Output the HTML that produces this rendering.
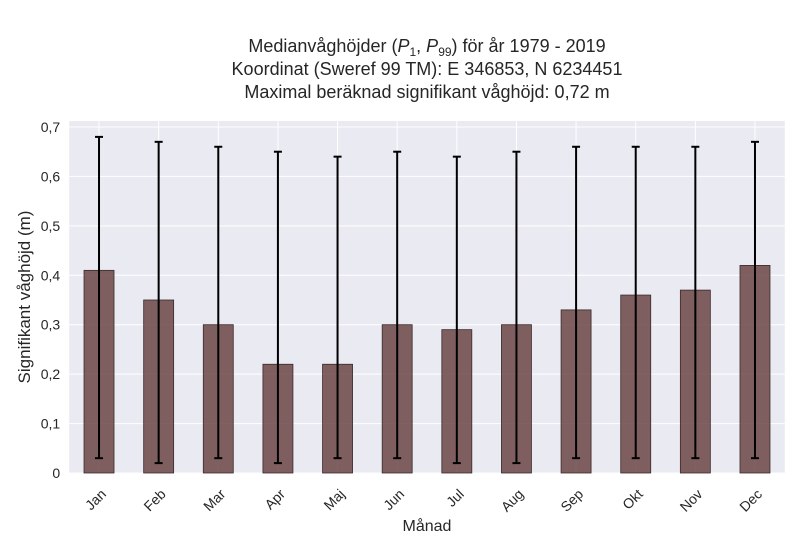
<!DOCTYPE html>
<html><head><meta charset="utf-8"><style>
body{margin:0;background:#fff;}
svg text{font-family:"Liberation Sans",sans-serif;fill:#262626;}
</style></head><body>
<svg width="800" height="550" xmlns="http://www.w3.org/2000/svg">
<g id="g"></g>
</svg>
<script>
const months=["Jan","Feb","Mar","Apr","Maj","Jun","Jul","Aug","Sep","Okt","Nov","Dec"];
const medians=[0.41,0.35,0.30,0.22,0.22,0.30,0.29,0.30,0.33,0.36,0.37,0.42];
const p1=[0.03,0.02,0.03,0.02,0.03,0.03,0.02,0.02,0.03,0.03,0.03,0.03];
const p99=[0.68,0.67,0.66,0.65,0.64,0.65,0.64,0.65,0.66,0.66,0.66,0.67];
const yTicks=[0,0.1,0.2,0.3,0.4,0.5,0.6,0.7];
const yTickLabels=["0","0,1","0,2","0,3","0,4","0,5","0,6","0,7"];
const L=69.2,R=784.8,T=121,B=473,yMax=0.7,yTop=127;
const step=(R-L)/months.length;
const xs=i=>L+step*(i+0.5);
const ys=v=>B-(v/yMax)*(B-yTop);
const g=document.getElementById('g');
const NS="http://www.w3.org/2000/svg";
function mk(t,a,p){const e=document.createElementNS(NS,t);for(const k in a)e.setAttribute(k,a[k]);(p||g).appendChild(e);return e;}
let e=mk('rect',{x:L,y:T,width:R-L,height:B-T,fill:'#eaeaf2'});


yTicks.forEach((v,i)=>{
 let l=mk('line',{x1:L,x2:R,y1:ys(v),y2:ys(v),stroke:'#fff','stroke-width':1});
 
 
 let t=mk('text',{x:L-9,y:ys(v)+5,'text-anchor':'end','font-size':14});
 t.textContent=yTickLabels[i];
 
 
});
months.forEach((m,i)=>{
 let l=mk('line',{x1:xs(i),x2:xs(i),y1:T,y2:B,stroke:'#fff','stroke-width':1});
 
 
});
months.forEach((m,i)=>{
 const x=xs(i),w=30;
 let b=mk('rect',{x:x-w/2,y:ys(medians[i]),width:w,height:B-ys(medians[i]),fill:'#6b4545','fill-opacity':0.85,stroke:'#3a2a2a','stroke-width':0.8});
 
 
 let eb=mk('g',{});
 
 
 mk('line',{x1:x,x2:x,y1:ys(p99[i]),y2:ys(p1[i]),stroke:'#000','stroke-width':2},eb);
 mk('line',{x1:x-4,x2:x+4,y1:ys(p99[i]),y2:ys(p99[i]),stroke:'#000','stroke-width':2},eb);
 mk('line',{x1:x-4,x2:x+4,y1:ys(p1[i]),y2:ys(p1[i]),stroke:'#000','stroke-width':2},eb);
 let t=mk('text',{x:x+8,y:B+22,'text-anchor':'end','font-size':14,transform:`rotate(-45 ${x+8} ${B+22})`});
 t.textContent=m;
 
 
});
</script>
<svg width="800" height="550" style="position:absolute;left:0;top:0" xmlns="http://www.w3.org/2000/svg">
<text x="427" y="52" text-anchor="middle" font-size="18" style="font-family:'Liberation Sans',sans-serif;fill:#262626">Medianvåghöjder (<tspan font-style="italic">P</tspan><tspan font-size="12" dy="4">1</tspan><tspan dy="-4">, </tspan><tspan font-style="italic">P</tspan><tspan font-size="12" dy="4">99</tspan><tspan dy="-4">) för år 1979 - 2019</tspan></text>
<text x="427" y="75" text-anchor="middle" font-size="18" style="font-family:'Liberation Sans',sans-serif;fill:#262626">Koordinat (Sweref 99 TM): E 346853, N 6234451</text>
<text x="427" y="98" text-anchor="middle" font-size="18" style="font-family:'Liberation Sans',sans-serif;fill:#262626">Maximal beräknad signifikant våghöjd: 0,72 m</text>
<text x="427" y="531" text-anchor="middle" font-size="16" style="font-family:'Liberation Sans',sans-serif;fill:#262626">Månad</text>
<text x="30" y="297" text-anchor="middle" font-size="17" transform="rotate(-90 30 297)" style="font-family:'Liberation Sans',sans-serif;fill:#262626">Signifikant våghöjd (m)</text>
</svg>
</body></html>
